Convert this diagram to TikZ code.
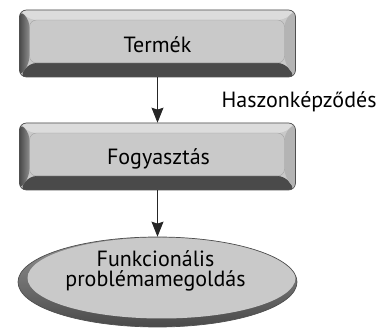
\documentclass[tikz,border=0pt]{standalone}
\usepackage{fontspec}
\setmainfont{PT Sans}
\usetikzlibrary{arrows.meta,calc,shapes.geometric}

\definecolor{facegray}{HTML}{C9C9C9}
\definecolor{topgray}{HTML}{DCDCDC}
\definecolor{leftgray}{HTML}{5C5C5C}
\definecolor{bottomgray}{HTML}{4A4A4A}
\definecolor{rightgray}{HTML}{B4B4B4}
\definecolor{rimgray}{HTML}{505050}

\tikzset{
  % bevelled push-button box
  bevelbox/.style={
    rectangle, rounded corners=7pt, minimum width=276pt, minimum height=67pt,
    inner sep=0pt, draw=rimgray, line width=0.7pt, fill=facegray,
    path picture={
      \coordinate (sw) at (path picture bounding box.south west);
      \coordinate (ne) at (path picture bounding box.north east);
      \coordinate (nw) at (sw|-ne);
      \coordinate (se) at (ne|-sw);
      \coordinate (isw) at ($(sw)+(10pt,14pt)$);
      \coordinate (ine) at ($(ne)+(-11pt,-10pt)$);
      \coordinate (inw) at (isw|-ine);
      \coordinate (ise) at (ine|-isw);
      \fill[topgray] (nw) -- (ne) -- (ine) -- (inw) -- cycle;
      \fill[left color=bottomgray, right color=leftgray!70!white] (nw) -- (inw) -- (isw) -- (sw) -- cycle;
      \fill[bottomgray] (sw) -- (isw) -- (ise) -- (se) -- cycle;
      \fill[rightgray] (ne) -- (se) -- (ise) -- (ine) -- cycle;
      \draw[facegray!80!black, line width=0.4pt] (inw) rectangle (ise);
    }},
  % ellipse with a dark rim at the lower left
  rimellipse/.style={
    ellipse, minimum width=279pt, minimum height=90pt, inner sep=0pt,
    draw=rimgray, line width=0.7pt,
    top color=rimgray!60!white, bottom color=bottomgray,
    path picture={
      \fill[facegray] ($(path picture bounding box.center)+(4pt,4pt)$)
        ellipse [x radius=134pt, y radius=40.5pt];
    }},
  lbl/.style={font=\fontsize{22}{22}\selectfont, inner sep=0pt, align=center},
  flow/.style={line width=0.9pt, black!85,
    -{Stealth[width=12pt, length=15pt, inset=2pt]}}
}

\begin{document}
\begin{tikzpicture}[x=1pt, y=1pt]
  \useasboundingbox (0,0) rectangle (380,334);

  \node[bevelbox] (termek) at (157.5,290.5) {};
  \node[lbl, anchor=base] (termektext) at (157.5,281.7) {Termék};

  \node[bevelbox] (fogy) at (157.5,177.5) {};
  \node[lbl, anchor=base] (fogytext) at (158.5,169) {Fogyasztás};

  \node[rimellipse] (func) at (157.5,52) {};
  \node[lbl] (functext) at (155.5,63) {Funkcionális\\[-2pt]problémamegoldás};

  \node[lbl, anchor=base west] (haszon) at (221.5,226.3) {Haszonképződés};

  \draw[flow] (termek.south) -- (fogy.north);
  \draw[flow] (fogy.south) -- (func.north);
\end{tikzpicture}
\end{document}
